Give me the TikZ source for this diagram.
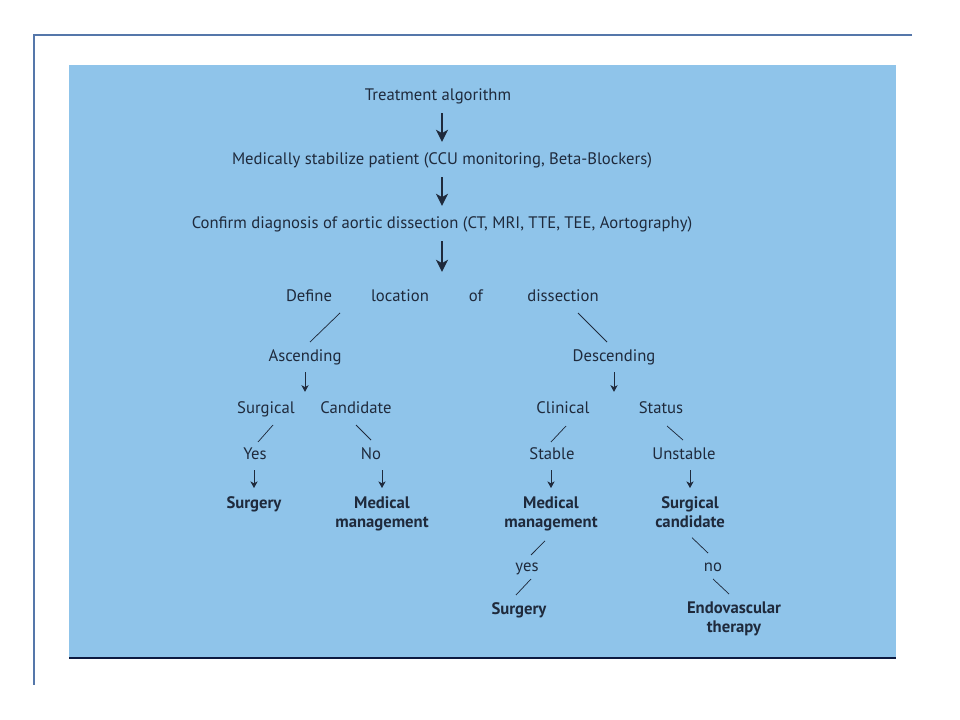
\documentclass[tikz,border=0pt]{standalone}
\usepackage{fontspec}
\setmainfont{PT Sans}
\usetikzlibrary{arrows.meta}
\definecolor{bgblue}{HTML}{8FC4EA}
\definecolor{ink}{HTML}{1F2A3C}
\definecolor{framec}{HTML}{5577AA}
\definecolor{navy}{HTML}{0C1A40}
\begin{document}
\begin{tikzpicture}[x=0.75pt,y=-0.75pt,
  lbl/.style={inner sep=0pt,text=ink,font=\fontsize{12.5}{14.25}\selectfont,text height=9.5pt,text depth=2pt},
  res/.style={inner sep=0pt,text=ink,font=\fontsize{12.5}{14.25}\selectfont\bfseries,align=center,anchor=north},
  bigarr/.style={draw=ink,line width=1.1pt,-{Stealth[length=9pt,width=9pt,inset=2.5pt]}},
  smarr/.style={draw=ink,line width=0.6pt,-{Stealth[length=5pt,width=5.5pt,inset=1.5pt]}},
  diag/.style={draw=ink,line width=0.55pt}]
\useasboundingbox (0,0) rectangle (960,720);
\fill[white] (0,0) rectangle (960,720);
% frame
\draw[framec,line width=1.1pt] (912,35) -- (34,35) -- (34,685);
\fill[bgblue] (69,65) rectangle (896,658);
\draw[navy,line width=1.4pt] (69,658) -- (896,658);
% nodes
\node[lbl] (t1) at (438,96) {Treatment algorithm};
\node[lbl] (t2) at (442,160) {Medically stabilize patient (CCU monitoring, Beta-Blockers)};
\node[lbl] (t3) at (442,224) {Confirm diagnosis of aortic dissection (CT, MRI, TTE, TEE, Aortography)};
\node[lbl] (def) at (309,296) {Define};
\node[lbl] (loc) at (400,296) {location};
\node[lbl] (of) at (476,296) {of};
\node[lbl] (dis) at (563,296) {dissection};
\node[lbl] (asc) at (305,356) {Ascending};
\node[lbl] (desc) at (614,356) {Descending};
\node[lbl] (surg) at (266,408) {Surgical};
\node[lbl] (cand) at (356,408) {Candidate};
\node[lbl] (clin) at (563,408) {Clinical};
\node[lbl] (stat) at (661,408) {Status};
\node[lbl] (yes) at (255,454) {Yes};
\node[lbl] (no) at (371,454) {No};
\node[lbl] (stab) at (552,454) {Stable};
\node[lbl] (unst) at (684,454) {Unstable};
\node[res] (r1) at (254,496) {Surgery};
\node[res] (r2) at (382,496) {Medical\\management};
\node[res] (r3) at (551,496) {Medical\\management};
\node[res] (r4) at (690,496) {Surgical\\candidate};
\node[lbl] (yes2) at (527,566) {yes};
\node[lbl] (no2) at (713,566) {no};
\node[res] (r5) at (519,602) {Surgery};
\node[res] (r6) at (734,602) {Endovascular\\therapy};
% big arrows
\draw[bigarr,shorten <=7pt,shorten >=7.7pt] (t2.north |- t1.south) -- (t2.north);
\draw[bigarr,shorten <=7pt,shorten >=7.7pt] (t3.north |- t2.south) -- (t3.north);
\draw[bigarr,shorten <=7pt,shorten >=12.2pt] (t3.south) -- (t3.south |- of.north);
% diagonals
\draw[diag] ([shift={(31,17)}]def.center) -- ([shift={(5,-14)}]asc.center);
\draw[diag] ([shift={(15,17)}]dis.center) -- ([shift={(-7,-14)}]desc.center);
\draw[diag] ([shift={(7,17)}]surg.center) -- ([shift={(3,-12)}]yes.center);
\draw[diag] ([shift={(0,17)}]cand.center) -- ([shift={(0,-14)}]no.center);
\draw[diag] ([shift={(3,18)}]clin.center) -- ([shift={(-1,-12)}]stab.center);
\draw[diag] ([shift={(6,18)}]stat.center) -- ([shift={(-1,-14)}]unst.center);
\draw[diag] ([shift={(-6,10)}]r3.south) -- ([shift={(4,-11)}]yes2.center);
\draw[diag] ([shift={(4,13)}]yes2.center) -- ([shift={(-3,-7)}]r5.north);
\draw[diag] ([shift={(2,10)}]r4.south) -- ([shift={(-5,-13)}]no2.center);
\draw[diag] ([shift={(0,13)}]no2.center) -- ([shift={(-5,-8)}]r6.north);
% small arrows
\draw[smarr,shorten <=6.2pt,shorten >=6.2pt] (asc.south) -- (asc.south |- surg.north);
\draw[smarr,shorten <=6.2pt,shorten >=6.2pt] (desc.south) -- (desc.south |- clin.north);
\draw[smarr,shorten <=6.2pt,shorten >=6pt] (r1.north |- yes.south) -- (r1.north);
\draw[smarr,shorten <=6.2pt,shorten >=6pt] (r2.north |- no.south) -- (r2.north);
\draw[smarr,shorten <=6.2pt,shorten >=6pt] (r3.north |- stab.south) -- (r3.north);
\draw[smarr,shorten <=6.2pt,shorten >=6pt] (r4.north |- unst.south) -- (r4.north);
\end{tikzpicture}
\end{document}
